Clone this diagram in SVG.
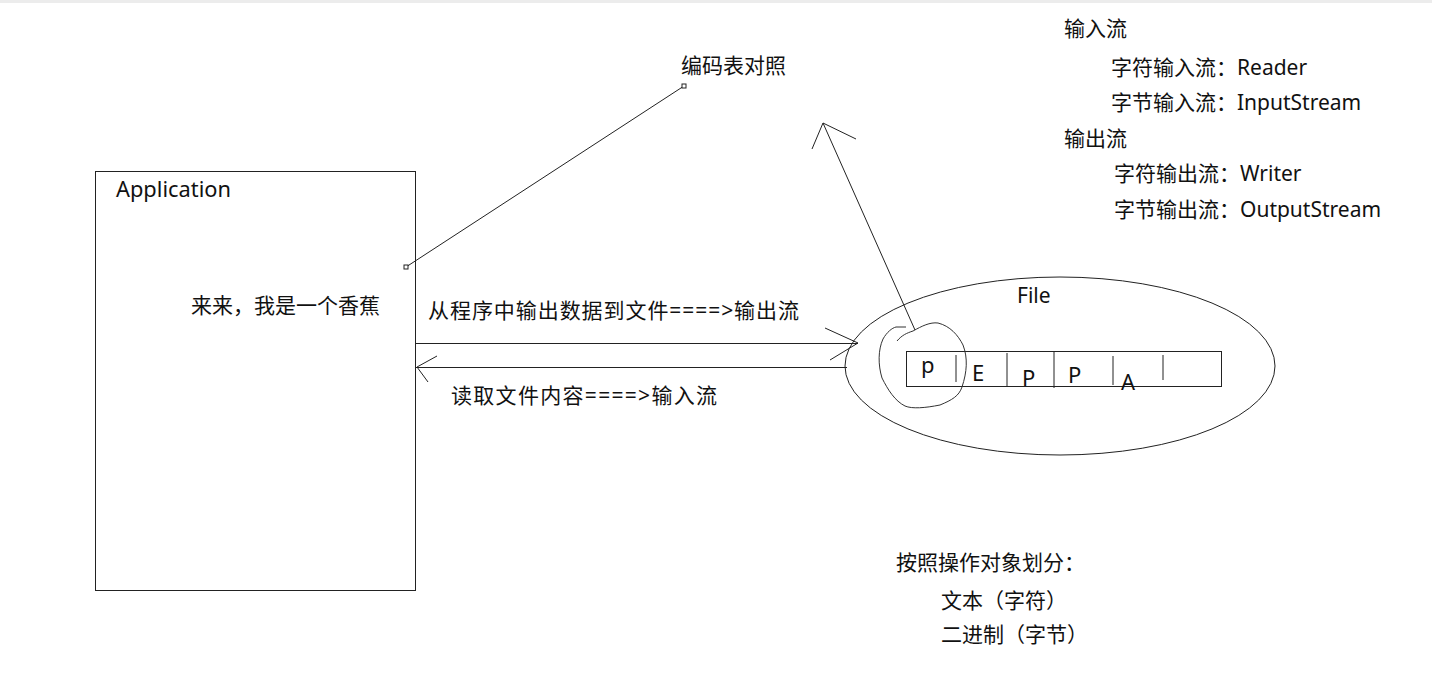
<svg xmlns="http://www.w3.org/2000/svg" width="1432" height="698" viewBox="0 0 1432 698">
<style>
text{font-family:"Noto Sans","Noto Sans CJK SC",sans-serif;font-size:21px;fill:#111}
.ln{stroke:#222;stroke-width:1;fill:none}
.hd{stroke:#333;stroke-width:1;fill:none}
.cell{font-size:22px}
</style>
<rect x="0" y="0" width="1432" height="698" fill="#fff"/>
<rect x="0" y="0" width="1432" height="3" fill="#ececec"/>
<g id="application">
<rect x="95.5" y="171.5" width="320" height="419" class="ln"/>
<text x="116" y="197" textLength="115" lengthAdjust="spacingAndGlyphs">Application</text>
<text x="191" y="313">来来，我是一个香蕉</text>
</g>
<g id="encoding-note">
<text x="681" y="73">编码表对照</text>
</g>
<g id="file">
<ellipse cx="1060" cy="366" rx="215" ry="89" class="ln"/>
<text x="1017" y="303">File</text>
<rect x="906.5" y="351.5" width="315" height="35" class="ln"/>
<path d="M956,355V382M1007,353V387M1054,351V388M1113,356V385M1163,355V380" class="ln"/>
<text class="cell" x="921" y="373">p</text>
<text class="cell" x="972" y="381">E</text>
<text class="cell" x="1022" y="386">P</text>
<text class="cell" x="1068" y="383">P</text>
<text class="cell" x="1121" y="390">A</text>
</g>
<g id="stream-list">
<text x="1064" y="36">输入流</text>
<text x="1111" y="75">字符输入流：Reader</text>
<text x="1111" y="110">字节输入流：InputStream</text>
<text x="1064" y="146">输出流</text>
<text x="1114" y="181">字符输出流：Writer</text>
<text x="1114" y="217">字节输出流：OutputStream</text>
</g>
<g id="classification">
<text x="896" y="570">按照操作对象划分：</text>
<text x="941" y="608">文本（字符）</text>
<text x="941" y="642">二进制（字节）</text>
</g>
<g id="connectors">
<line x1="406" y1="267" x2="684" y2="86" class="ln"/>
<rect x="404" y="265" width="4" height="4" fill="#fff" stroke="#222" stroke-width="1"/>
<rect x="682" y="84" width="4" height="4" fill="#fff" stroke="#222" stroke-width="1"/>
<line x1="415" y1="343.5" x2="858" y2="343.5" class="ln"/>
<path d="M825,328L858,343L830,360" class="ln"/>
<text x="428" y="318" textLength="371" lengthAdjust="spacing">从程序中输出数据到文件====&gt;输出流</text>
<line x1="416" y1="367.5" x2="847" y2="367.5" class="ln"/>
<path d="M437,356L417,367L428,382" class="ln"/>
<text x="451" y="403" textLength="266" lengthAdjust="spacing">读取文件内容====&gt;输入流</text>
<path d="M897,341C902,335 907,333 913,331C922,326 930,322 938,323C950,326 958,335 963,345C968,358 967,372 962,387C959,396 952,400 940,405C925,408 912,409 905,406C895,401 888,390 882,378C878,365 878,350 883,339C887,332 892,328 896,327L906,327" class="hd"/>
<line x1="915" y1="330" x2="823" y2="123" class="ln"/>
<path d="M812,149L823,123L856,139" class="ln"/>
</g>
</svg>
